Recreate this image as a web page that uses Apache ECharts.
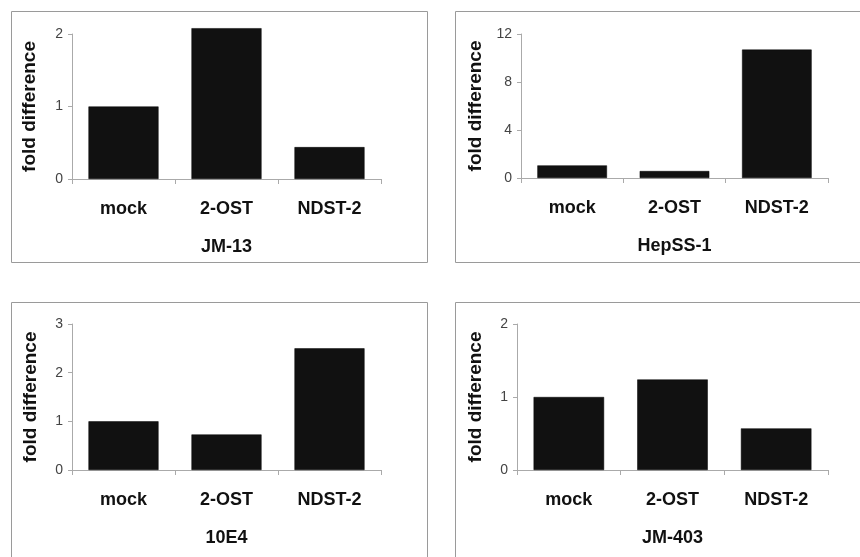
<!DOCTYPE html>
<html><head><meta charset="utf-8">
<script src="https://cdn.jsdelivr.net/npm/echarts@6/dist/echarts.min.js"></script>
<style>html,body{margin:0;padding:0;background:#fff}#c{width:860px;height:557px}</style>
</head><body><div id="c"></div>
<script>
const categories = ['mock', '2-OST', 'NDST-2'];
const panelTitles = ['JM-13', 'HepSS-1', '10E4', 'JM-403'];
const valuesJM13 = [1.0, 2.08, 0.44];
const valuesHepSS1 = [1.05, 0.58, 10.7];
const values10E4 = [1.0, 0.73, 2.5];
const valuesJM403 = [1.0, 1.24, 0.57];
const yMax = [2, 12, 3, 2];
const yInterval = [1, 4, 1, 1];
const allValues = [valuesJM13, valuesHepSS1, values10E4, valuesJM403];

const grids = [
  {left: 72, top: 34, width: 309, height: 145},
  {left: 521, top: 34, width: 307, height: 144},
  {left: 72, top: 324, width: 309, height: 146},
  {left: 517, top: 324, width: 311, height: 146}
];
const frames = [
  {x: 11, y: 11, w: 416, h: 251},
  {x: 455, y: 11, w: 410, h: 251},
  {x: 11, y: 302, w: 416, h: 260},
  {x: 455, y: 302, w: 410, h: 260}
];
const yNameGaps = [33, 36, 32, 32];
const font = 'Liberation Sans, Arial, sans-serif';
const chart = echarts.init(document.getElementById('c'));
chart.setOption({
  animation: false,
  backgroundColor: '#fff',
  graphic: frames.map(f => ({type: 'rect', shape: {x: f.x + 0.5, y: f.y + 0.5, width: f.w, height: f.h}, style: {fill: 'none', stroke: '#9a9a9a', lineWidth: 1}, z: -1})),
  grid: grids,
  xAxis: grids.map((g, i) => ({
    type: 'category', gridIndex: i, data: categories,
    name: panelTitles[i], nameLocation: 'middle', nameGap: 59,
    nameTextStyle: {fontFamily: font, fontWeight: 'bold', fontSize: 18, color: '#111'},
    axisLine: {lineStyle: {color: '#aaa', width: 1}},
    axisTick: {show: true, length: 5, lineStyle: {color: '#aaa'}},
    axisLabel: {margin: 21, fontFamily: font, fontWeight: 'bold', fontSize: 18, color: '#111'}
  })),
  yAxis: grids.map((g, i) => ({
    type: 'value', gridIndex: i, min: 0, max: yMax[i], interval: yInterval[i],
    name: 'fold difference', nameLocation: 'middle', nameGap: yNameGaps[i],
    nameTextStyle: {fontFamily: font, fontWeight: 'bold', fontSize: 19, color: '#111'},
    axisLine: {show: true, lineStyle: {color: '#aaa', width: 1}},
    axisTick: {show: true, length: 4, lineStyle: {color: '#aaa'}},
    splitLine: {show: false},
    axisLabel: {margin: 9, fontFamily: font, fontSize: 14, color: '#444'}
  })),
  series: allValues.map((v, i) => ({
    type: 'bar', xAxisIndex: i, yAxisIndex: i, data: v,
    barCategoryGap: '32%', clip: false,
    itemStyle: {color: '#111', borderColor: '#000', borderWidth: 0.5}
  }))
});
</script></body></html>
